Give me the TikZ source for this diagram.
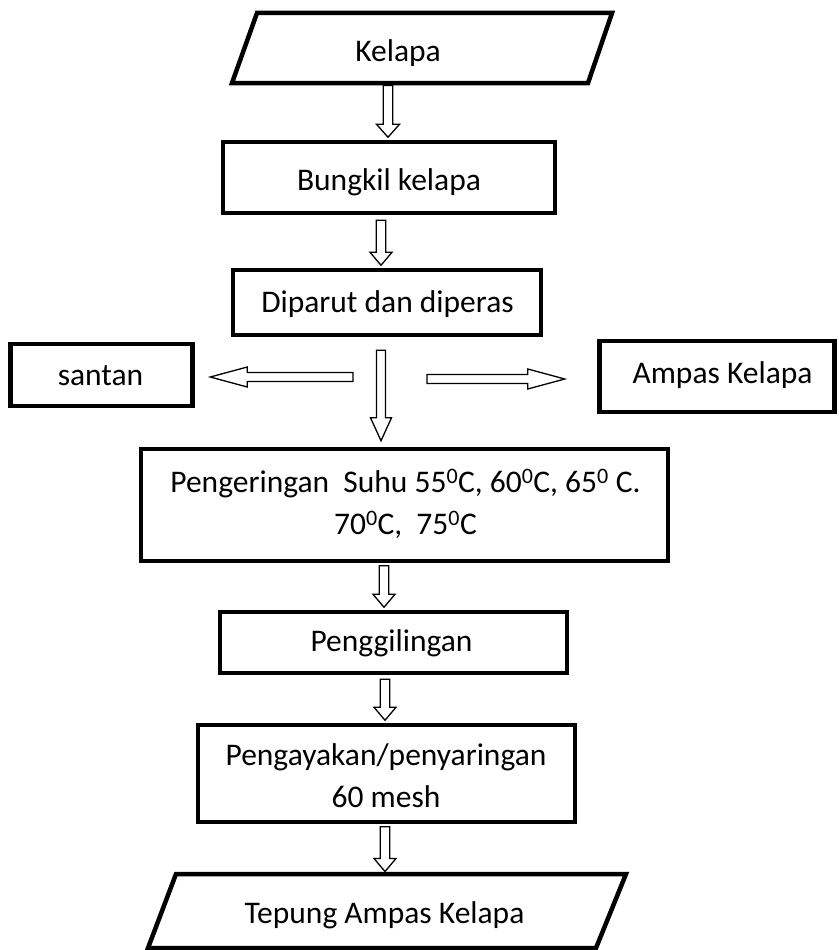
\documentclass[tikz,border=0pt]{standalone}
\usepackage{fontspec}
\setmainfont{Carlito}
\usetikzlibrary{calc}
\tikzset{
  box/.style={draw, line width=4.5pt, fill=white, inner sep=0pt, line join=miter},
  para/.style={draw, line width=4.5pt, line join=miter},
  txt/.style={inner sep=0pt, font=\fontsize{31.5}{42}\selectfont},
  arr/.style={draw, fill=white, line width=1.3pt, line join=miter},
  blk/.style n args={3}{to path={
    ($(\tikztotarget)!#3!(\tikztostart)$) coordinate (bkH)
    ($(\tikztostart)!#1!90:(\tikztotarget)$)
    -- ($(bkH)!#1!-90:(\tikztostart)$)
    -- ($(bkH)!#2!-90:(\tikztostart)$)
    -- (\tikztotarget)
    -- ($(bkH)!#2!90:(\tikztostart)$)
    -- ($(bkH)!#1!90:(\tikztostart)$)
    -- ($(\tikztostart)!#1!-90:(\tikztotarget)$)
    -- cycle}}
}
\begin{document}
\begin{tikzpicture}[x=1pt,y=-1pt]
\useasboundingbox (0,0) rectangle (838,950);
% Kelapa (input)
\draw[para] (257,13) -- (612,13) -- (588,83) -- (232,83) -- cycle;
\node[txt, anchor=base] (kel) at (398,62) {Kelapa};
\coordinate (kelb) at (388,85.5);
% boxes
\node[box, minimum width=332pt, minimum height=71pt] (bun) at (389,177.5) {};
\node[txt, anchor=base] (bunt) at (389,190) {Bungkil kelapa};
\node[box, minimum width=308pt, minimum height=65pt] (dip) at (387,302.5) {};
\node[txt, anchor=base] (dipt) at (387.5,312) {Diparut dan diperas};
\node[box, minimum width=182pt, minimum height=62pt] (san) at (101.5,375) {};
\node[txt, anchor=base] (sant) at (100.5,385) {santan};
\node[box, minimum width=235pt, minimum height=71pt] (amp) at (717,376.5) {};
\node[txt, anchor=base] (ampt) at (722.5,383) {Ampas Kelapa};
\node[box, minimum width=527pt, minimum height=112pt] (peng) at (404.5,505) {};
\node[txt, align=center] (pengt) at (405.5,504) {Pengeringan\ \ Suhu 55\textsuperscript{0}C, 60\textsuperscript{0}C, 65\textsuperscript{0} C.\\70\textsuperscript{0}C,\ \ 75\textsuperscript{0}C};
\node[box, minimum width=347pt, minimum height=61pt] (gil) at (393.5,642.5) {};
\node[txt, anchor=base] (gilt) at (391.5,651) {Penggilingan};
\node[box, minimum width=377pt, minimum height=97pt] (ayak) at (386.5,773.5) {};
\node[txt, align=center] (ayakt) at (386,776) {Pengayakan/penyaringan\\60 mesh};
% Tepung (output)
\draw[para] (176,874) -- (626,874) -- (596,948) -- (148,948) -- cycle;
\node[txt, anchor=base] (tep) at (384.5,923) {Tepung Ampas Kelapa};
\coordinate (tept) at (385,871.5);
% connector end points
\coordinate (a1e) at ($(bun.north)+(-1,-2.5)$);
\coordinate (a2s) at ($(bun.south)+(-8,5)$);
\coordinate (a2e) at ($(dip.north)+(-6,-2.5)$);
\coordinate (a3s) at ($(dip.south)+(-6,13)$);
\coordinate (a3e) at ($(peng.north)+(-23.5,-6)$);
\coordinate (a4s) at ($(peng.south)+(-20.5,2.5)$);
\coordinate (a4e) at ($(gil.north)+(-9.5,-2.5)$);
\coordinate (a5s) at ($(gil.south)+(-8.5,4)$);
\coordinate (a5e) at ($(ayak.north)+(-1.5,-2.5)$);
\coordinate (a6s) at ($(ayak.south)+(-1.5,2.5)$);
\coordinate (lt) at (353,377);
\coordinate (lh) at ($(san.east |- lt)+(15.5,0)$);
\coordinate (rt) at (427,379);
\coordinate (rh) at ($(amp.west |- rt)+(-32.5,0)$);
% block arrows
\path[arr] (kelb) to[blk={4.75pt}{11.5pt}{13pt}] (a1e);
\path[arr] (a2s) to[blk={4.75pt}{11pt}{13pt}] (a2e);
\path[arr] (a3s) to[blk={4.5pt}{10.5pt}{23pt}] (a3e);
\path[arr] (a4s) to[blk={4.75pt}{11pt}{13pt}] (a4e);
\path[arr] (a5s) to[blk={4.75pt}{11pt}{13pt}] (a5e);
\path[arr] (a6s) to[blk={4.75pt}{11pt}{13pt}] (tept);
\path[arr] (lt) to[blk={4.5pt}{10pt}{37pt}] (lh);
\path[arr] (rt) to[blk={4.5pt}{10pt}{37pt}] (rh);
\end{tikzpicture}
\end{document}
